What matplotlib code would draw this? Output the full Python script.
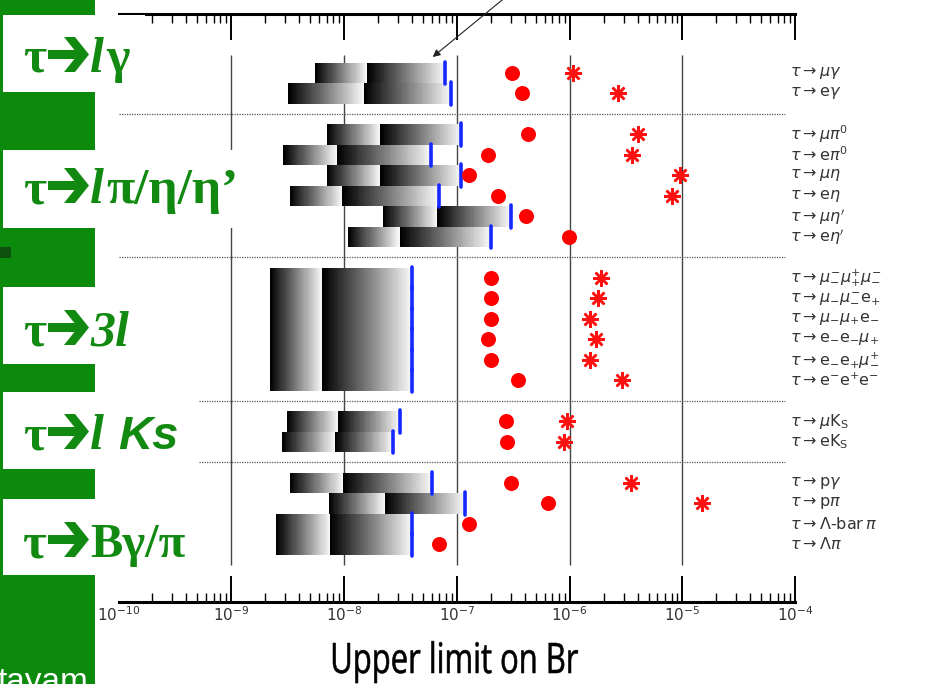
import numpy as np
import matplotlib
matplotlib.use('Agg')
import matplotlib.pyplot as plt
from matplotlib.patches import Rectangle, Polygon, PathPatch
from matplotlib.textpath import TextPath
from matplotlib.font_manager import FontProperties
from matplotlib.path import Path
from matplotlib.transforms import blended_transform_factory
from matplotlib.ticker import FixedLocator, LogLocator, NullFormatter, LogFormatterMathtext

# ---------------- data ----------------
group_names = ["lγ", "lπ/η/η'", "3l", "l Ks", "Bγ/π"]
group_sizes = [2, 6, 6, 2, 4]

mode_labels = [
    r'$\tau\rightarrow\mu\gamma$', r'$\tau\rightarrow\mathrm{e}\gamma$',
    r'$\tau\rightarrow\mu\pi^{0}$', r'$\tau\rightarrow\mathrm{e}\pi^{0}$',
    r'$\tau\rightarrow\mu\eta$', r'$\tau\rightarrow\mathrm{e}\eta$',
    r"$\tau\rightarrow\mu\eta'$", r"$\tau\rightarrow\mathrm{e}\eta'$",
    r'$\tau\rightarrow\mu^{-}_{-}\mu^{+}_{+}\mu^{-}_{-}$',
    r'$\tau\rightarrow\mu_{-}\mu^{-}_{-}\mathrm{e}_{+}$',
    r'$\tau\rightarrow\mu_{-}\mu_{+}\mathrm{e}_{-}$',
    r'$\tau\rightarrow\mathrm{e}_{-}\mathrm{e}_{-}\mu_{+}$',
    r'$\tau\rightarrow\mathrm{e}_{-}\mathrm{e}_{+}\mu^{+}_{-}$',
    r'$\tau\rightarrow\mathrm{e}^{-}\mathrm{e}^{+}\mathrm{e}^{-}$',
    r'$\tau\rightarrow\mu\mathrm{K}_\mathrm{S}$', r'$\tau\rightarrow\mathrm{eK}_\mathrm{S}$',
    r'$\tau\rightarrow\mathrm{p}\gamma$', r'$\tau\rightarrow\mathrm{p}\pi$',
    r'$\tau\rightarrow\Lambda\mathrm{\text{-}bar}\,\pi$', r'$\tau\rightarrow\Lambda\pi$',
]

band_start = [5.5e-9, 3.2e-9, 7.0e-9, 2.9e-9, 7.0e-9, 3.3e-9, 2.2e-8, 1.08e-8,
              2.2e-9, 2.2e-9, 2.2e-9, 2.2e-9, 2.2e-9, 2.2e-9,
              3.1e-9, 2.8e-9, 3.3e-9, 7.3e-9, 2.5e-9, 2.5e-9]
band_split = [1.6e-8, 1.5e-8, 2.1e-8, 8.6e-9, 2.1e-8, 9.6e-9, 6.7e-8, 3.1e-8,
              6.4e-9, 6.4e-9, 6.4e-9, 6.4e-9, 6.4e-9, 6.4e-9,
              8.8e-9, 8.3e-9, 9.8e-9, 2.3e-8, 7.5e-9, 7.5e-9]
expected_limit = [7.8e-8, 8.9e-8, 1.09e-7, 5.9e-8, 1.09e-7, 6.9e-8, 3.0e-7, 2.0e-7,
                  4.0e-8, 4.0e-8, 4.0e-8, 4.0e-8, 4.0e-8, 4.0e-8,
                  3.1e-8, 2.7e-8, 6.0e-8, 1.18e-7, 4.0e-8, 4.0e-8]
circle_limit = [3.1e-7, 3.8e-7, 4.3e-7, 1.9e-7, 1.28e-7, 2.3e-7, 4.1e-7, 9.9e-7,
                2.0e-7, 2.0e-7, 2.0e-7, 1.9e-7, 2.0e-7, 3.5e-7,
                2.7e-7, 2.8e-7, 3.0e-7, 6.4e-7, 1.28e-7, 6.9e-8]
star_limit = [1.07e-6, 2.7e-6, 4.0e-6, 3.6e-6, 9.5e-6, 8.1e-6, np.nan, np.nan,
              1.9e-6, 1.8e-6, 1.5e-6, 1.7e-6, 1.5e-6, 2.9e-6,
              9.5e-7, 8.9e-7, 3.5e-6, 1.49e-5, np.nan, np.nan]
decades = [-10, -9, -8, -7, -6, -5, -4]

# ---------------- layout ----------------
W, H = 925, 684
fig = plt.figure(figsize=(W / 100, H / 100), dpi=100)
fig.patch.set_facecolor('white')

def fx(x):
    return x / W

def fy(y):
    return 1 - y / H

# row positions: one blank row between groups
rows, seps = [], []
k = 0
for gi, g in enumerate(group_sizes):
    rows.extend(range(k, k + g))
    k += g
    if gi < len(group_sizes) - 1:
        seps.append(k)
    k += 1
rows = np.array(rows, dtype=float)

# left green panel (background decoration)
fig.add_artist(Rectangle((0, 0), fx(95), 1, transform=fig.transFigure,
                         facecolor='#0b8a0b', edgecolor='none', zorder=-5))
fig.add_artist(Rectangle((0, fy(258)), fx(11), 11 / H, transform=fig.transFigure,
                         facecolor='#0d4f0d', edgecolor='none', zorder=-4))
fig.text(fx(-3), fy(691), 'tayam', color='white', fontsize=24,
         family='Liberation Sans', ha='left', va='baseline', zorder=-3)

ax = fig.add_axes([fx(118.5), fy(602), (795.3 - 118.5) / W, (602 - 14) / H])
ax.patch.set_visible(False)
ax.set_xscale('log')
ax.set_xlim(10.0 ** decades[0], 10.0 ** decades[-1])
ax.set_ylim(25.805, -2.878)
ax.set_yticks([])
for s in ['left', 'right']:
    ax.spines[s].set_visible(False)
for s in ['top', 'bottom']:
    ax.spines[s].set_linewidth(2.2)
    ax.spines[s].set_color('black')

ax.xaxis.set_major_locator(FixedLocator(10.0 ** np.array(decades)))
ax.xaxis.set_minor_locator(LogLocator(base=10, subs=np.arange(2, 10), numticks=30))
ax.xaxis.set_minor_formatter(NullFormatter())
ax.xaxis.set_major_formatter(LogFormatterMathtext())
ax.tick_params(axis='x', which='major', direction='in', top=True, bottom=True,
               length=18.5, width=1.4, labelsize=11, labelcolor='#333333', pad=2.5)
ax.tick_params(axis='x', which='minor', direction='in', top=True, bottom=True,
               length=6.5, width=1.0)
first = ax.xaxis.get_major_ticks()[0]
first.tick1line.set_visible(False)
first.tick2line.set_visible(False)

# vertical decade lines
ax.vlines(10.0 ** np.array(decades[1:-1]), -0.878, 24.0, colors='#444444', lw=1.0, zorder=1)
# dotted separators between groups
ax.hlines(seps, 10.0 ** decades[0], 8.1e-5, colors='#555555',
          linestyles=(0, (1, 1)), lw=0.9, zorder=1)

# gradient bands
nslice = 50
for r, a, s, b in zip(rows, band_start, band_split, expected_limit):
    for lo, hi in [(a, s), (s, b)]:
        edges = np.logspace(np.log10(lo), np.log10(hi), nslice + 1)
        grays = np.linspace(0.0, 0.97, nslice)
        ax.broken_barh([(edges[j], edges[j + 1] - edges[j]) for j in range(nslice)],
                       (r - 0.5, 1.0), facecolors=[str(g) for g in grays],
                       linewidth=0, antialiased=False, zorder=2)

lc = ax.vlines(expected_limit, rows - 0.55, rows + 0.55, colors='#1428ff', lw=2.6, zorder=3)
lc.set_capstyle('round')

ax.plot(circle_limit, rows, ls='none', marker='o', ms=10.8, color='#ff0000',
        mec='none', zorder=4)
ax.plot(star_limit, rows, ls='none', marker=(8, 2, 0), ms=12, mew=1.8,
        color='#ff1010', zorder=4)

trans = blended_transform_factory(ax.transAxes, ax.transData)
for r, lab in zip(rows, mode_labels):
    ax.text(0.992, r, lab, transform=trans, ha='left', va='center', fontsize=11.5,
            color='#333333', clip_on=False)

ax.annotate('', xy=(6.1e-8, -0.78), xytext=(2.84e-7, -3.8),
            arrowprops=dict(arrowstyle='-|>', color='#222222', lw=0.8,
                            mutation_scale=11, shrinkA=0, shrinkB=0),
            annotation_clip=False)

# ---------------- group label boxes ----------------
GREEN = '#128a12'
boxes = [(3, 15, 145, 92), (3, 150, 250, 228), (3, 287, 150, 364),
         (3, 392, 199, 469), (3, 499, 200, 575)]
for x0, y0, x1, y1 in boxes:
    fig.add_artist(Rectangle((fx(x0), fy(y1)), (x1 - x0) / W, (y1 - y0) / H,
                             transform=fig.transFigure, facecolor='white',
                             edgecolor='none', zorder=5))

def fp(size, family='Liberation Serif', style='normal'):
    return FontProperties(family=family, weight='bold', style=style, size=size)

renderer = fig.canvas.get_renderer()

def draw_arrow(x, base, sc=1.0):
    cy = 17.5 * sc
    shaft = [(0, cy - 4.5 * sc), (31 * sc, cy - 4.5 * sc), (31 * sc, cy + 4.5 * sc), (0, cy + 4.5 * sc)]
    head = [(16 * sc, 35 * sc), (27 * sc, 35 * sc), (41 * sc, cy), (27 * sc, 0), (16 * sc, 0), (30 * sc, cy)]
    for poly in (shaft, head):
        pts = [(fx(x + u), fy(base - v)) for u, v in poly]
        fig.add_artist(Polygon(pts, closed=True, transform=fig.transFigure,
                               facecolor=GREEN, edgecolor='none', zorder=6))

def draw_label(pieces, base, size):
    fig.text(fx(23), fy(base), 'τ', fontproperties=fp(size), color=GREEN,
             ha='left', va='baseline', zorder=7)
    draw_arrow(48, base)
    x = 90
    for s, props, gap in pieces:
        t = fig.text(fx(x), fy(base), s, fontproperties=props, color=GREEN,
                     ha='left', va='baseline', zorder=7)
        x += t.get_window_extent(renderer).width + gap

draw_label([('l', fp(36, style='italic'), 2), ('γ', fp(36), 0)], 72, 36)
draw_label([('l', fp(36, style='italic'), 2), ('π/η/η’', fp(37), 0)], 203, 36)
draw_label([('3l', fp(36, style='italic'), 0)], 345, 36)
draw_label([('l', fp(36, style='italic'), 14),
            ('Ks', fp(34, family='Liberation Sans', style='italic'), 0)], 449, 36)
draw_label([('Bγ/π', fp(35), 0)], 557, 37)

# ---------------- x-axis title (condensed sans) ----------------
tp = TextPath((0, 0), 'Upper limit on Br', size=42, prop=FontProperties(family='Open Sans'))
ext = tp.get_extents()
sx = 245 / ext.width
vx = 333 + (tp.vertices[:, 0] - ext.x0) * sx
vy = 673 - tp.vertices[:, 1]
fig.add_artist(PathPatch(Path(np.column_stack([fx(vx), fy(vy)]), tp.codes),
                         transform=fig.transFigure, facecolor='black',
                         edgecolor='black', lw=0.4, zorder=6))

fig.savefig('out.png', dpi=100, facecolor='white')
